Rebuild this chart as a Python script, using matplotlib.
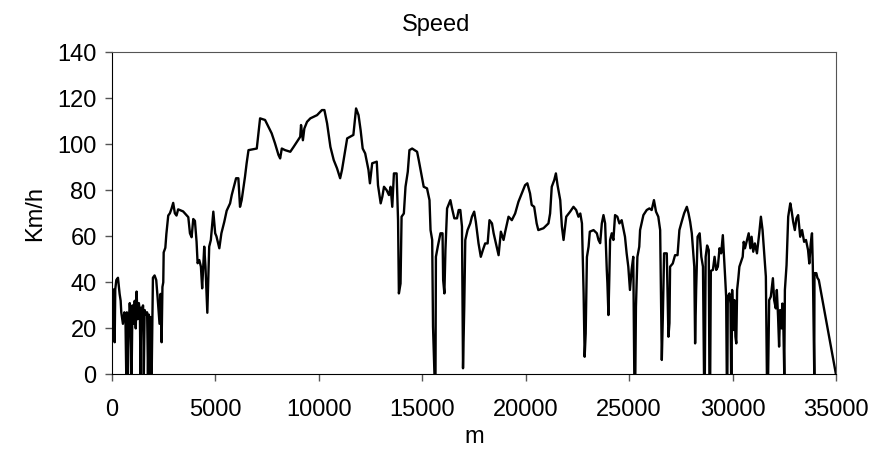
import matplotlib
matplotlib.use("Agg")
import matplotlib.pyplot as plt

plt.rcParams['font.family'] = ['Liberation Sans', 'DejaVu Sans']

# distance [m] and speed [km/h]
dist = [0, 50, 100, 130, 160, 210, 290, 370, 420, 450, 530, 600, 650, 690, 720, 770,
        820, 860, 900, 950, 990, 1050, 1100, 1150, 1190, 1240, 1300, 1350, 1380, 1410,
        1460, 1500, 1540, 1580, 1640, 1700, 1740, 1780, 1820, 1860, 1920, 1980, 2060,
        2140, 2210, 2300, 2350, 2400, 2440, 2480,
        2500, 2580, 2630, 2720, 2800, 2880, 2960, 3040, 3120, 3200, 3440, 3600, 3690,
        3770, 3850, 3930, 4010, 4090, 4140, 4220, 4300, 4360, 4460, 4520, 4610, 4700,
        4780, 4900, 4990, 5050, 5190, 5290, 5430, 5545, 5710, 5790, 6000, 6110, 6190,
        6270, 6430, 6510, 6600, 7000, 7160, 7400, 7560, 7720, 7880, 8050, 8130, 8210,
        8370, 8620, 8780, 8940, 9100, 9140, 9230, 9300, 9430, 9590, 9915, 10150, 10270,
        10400, 10560, 10720, 10880, 11030, 11120, 11240, 11370, 11510, 11670, 11800,
        11920, 12020, 12120, 12240, 12400, 12470, 12580, 12800, 12860, 12990, 13070,
        13150, 13280, 13390, 13470, 13550, 13630, 13760, 13830, 13870, 13950, 14000,
        14110, 14190, 14300, 14380, 14510, 14750, 14830, 14950, 15070, 15230, 15350,
        15400, 15480, 15520, 15590, 15640, 15660, 15750, 15880, 15980, 16010, 16070,
        16120, 16200, 16360, 16440, 16550, 16680, 16760, 16840, 16920, 16970, 17030,
        17080, 17190, 17320, 17400, 17510, 17590, 17720, 17830, 17930, 18040, 18160,
        18250, 18370, 18450, 18560, 18690, 18800, 18930, 19010, 19170, 19330, 19490,
        19650, 19810, 19970, 20080, 20210, 20290, 20410, 20530, 20610, 20860, 21100,
        21180, 21260, 21380, 21460, 21540, 21670, 21750, 21830, 21960, 22150, 22310,
        22440, 22550, 22640, 22720, 22800, 22850, 22900, 22960, 23040,
        23100, 23280, 23440, 23520, 23600, 23680, 23760, 23840, 23920, 23950, 24000,
        24040, 24080, 24160, 24240, 24320, 24430, 24530, 24640, 24720, 24800, 24880,
        24960, 25040, 25120, 25200, 25250, 25300, 25330, 25400, 25490, 25530, 25690,
        25850, 25980, 26090, 26200, 26300, 26410, 26500, 26550, 26580, 26630, 26690,
        26820, 26900, 26950, 26980, 27110, 27220, 27340, 27430, 27540, 27660, 27790,
        27870, 27950, 28030, 28150, 28190, 28240, 28310, 28410, 28490, 28570, 28620,
        28660, 28700, 28770, 28850, 28880, 28920, 28950,
        29050, 29130, 29210, 29290, 29370, 29450, 29530, 29580, 29640, 29690, 29720,
        29750, 29770, 29850, 29900, 29930, 29950, 29980, 30040, 30090, 30140, 30180,
        30220, 30280, 30330, 30410, 30490, 30540, 30600, 30700, 30780, 30860, 30920,
        31000, 31080, 31180, 31290, 31370, 31450, 31530, 31610, 31660, 31720, 31770,
        31850, 31950, 32010, 32090, 32140, 32200, 32250, 32300, 32370, 32410, 32460,
        32500, 32530, 32610, 32690, 32790, 32850, 32930, 33010, 33090, 33170, 33270,
        33360, 33460, 33550, 33650, 33710, 33780, 33840, 33880, 33950, 33960, 34050,
        34100, 34170, 35000]

speed = [36, 31, 37, 14, 37, 41, 42, 35, 32, 27, 22, 27, 26, 0, 27, 0,
         24, 31, 26, 0, 30, 22, 32, 20, 36, 24, 31, 27, 0, 29,
         21, 30, 0, 28, 26, 27, 0, 26, 0, 25, 0, 42, 43,
         41, 33, 22, 35, 14, 38, 40,
         53, 55, 61, 69, 70, 72, 74.5, 70, 69, 71.7, 70.8, 69.2, 68.3,
         61.3, 59.6, 67.5, 66.7, 57.6, 48.3, 49.7, 46.8, 37.4, 55.5, 46.8, 26.8, 55.5,
         58.4, 70.7, 61.3, 60, 54.8, 61.3, 66.3, 71.1, 74.3, 77.9, 85.2, 85.2, 72.8,
         75.7, 85.8, 91.7, 97.4, 98.1, 111.2, 110.5, 107.6, 104.7, 100.4, 95.3, 93.8, 98.1,
         97.4, 96.7, 98.8, 101, 103.2, 108.3, 101.7, 106.8, 109.7, 111.2, 112.6, 114.8, 114.8,
         109, 98.8, 93.1, 89.5, 85.2, 88.8, 95.3, 102.5, 103.2, 104, 115.5,
         112.6, 106.1, 98.1, 96, 88.8, 83, 91.7, 92.4, 82.2, 74.3, 77.2,
         81.5, 80, 77.9, 81.5, 72.8, 87.3, 87.3, 67, 35.2, 39.5, 68.5,
         69.9, 81.5, 88, 97.4, 98.1, 96.7, 93.1, 87.3, 81.5, 80.8, 75.7,
         62.7, 58.4, 20.8, 0, 0, 51.1, 55.5, 61.3, 61.3, 41, 35.2,
         54, 72.1, 75.7, 72.1, 67.8, 67.8, 71.4, 71.4, 64.2, 2.7, 29.4,
         58.4, 62.7, 65.6, 68.5, 70.7, 66.3, 56.9, 51.1, 54, 56.9, 56.9,
         67, 65.6, 61.3, 56.9, 51.8, 62, 58.4, 62, 68.5, 67, 69.9,
         75, 78.6, 82.2, 83, 78.6, 73.6, 72.8, 65.6, 62.7, 63.5, 65.6,
         69.9, 81.5, 84.4, 87.3, 82.2, 75.7, 64.2, 58.4, 68.5, 70.7, 72.8,
         71.4, 68.5, 69.9, 65.6, 35.2, 7.7, 17.8, 51, 55.5,
         62, 62.7, 61.3, 58.4, 57, 65.6, 69.2, 65.6, 45.4, 39.6, 25.8,
         41, 58.4, 61.3, 58.4, 69.2, 68.5, 65.6, 67, 63.5, 59.8, 52.6,
         46.8, 36.7, 45.4, 51.1, 0, 0, 29.4, 51.1, 55.5, 62.7, 69.2,
         71.4, 72.1, 71.4, 75.7, 70.7, 68.5, 62.7, 26.5, 6.3, 25, 52.6,
         52.6, 16.4, 22.3, 46.8, 48.2, 51.8, 51.8, 62.7, 66.3, 70, 72.8,
         70, 66.3, 61.3, 46.8, 13.5, 36.7, 59.8, 61.3, 51.1, 46.8, 0,
         0, 51.1, 56, 54, 0, 0, 45,
         45.4, 51.1, 45.4, 46.8, 54.8, 52.6, 60.5, 52.6, 42.5, 33.8, 0,
         0, 33.8, 35.2, 30.8, 0, 0, 36.7, 19.3, 32.3, 16.4, 13.5,
         36.7, 41.8, 46.8, 49, 51.1, 57.6, 54.8, 58.4, 61.3, 54.8, 59.8,
         53.3, 56.9, 52.6, 61.3, 68.5, 62.7, 52.6, 42.5, 0, 0, 32.3,
         33.8, 41.8, 32.3, 28.7, 36.7, 25.1, 12.1, 28, 20, 30.8, 19.3,
         0, 36.7, 47.5, 68.5, 74.3, 71.4, 66.3, 62.7, 67.8, 69.2, 59.8,
         62.7, 57.6, 58.4, 54, 48.2, 56.9, 61.3, 47, 0, 44, 44,
         42, 41, 0]

fig = plt.figure(figsize=(8.72, 4.5), dpi=100)
ax = fig.add_axes([0.1284, 0.1678, 0.8303, 0.7166])

ax.plot(dist, speed, color="black", linewidth=1.7)

ax.set_xlim(0, 35000)
ax.set_ylim(0, 140)
ax.set_xticks(range(0, 35001, 5000))
ax.set_yticks(range(0, 141, 20))
ax.tick_params(direction="out", length=5, width=1, color="#555555",
               labelsize=17)
ax.tick_params(axis="x", pad=13)
ax.tick_params(axis="y", pad=6)

for side in ["top", "right"]:
    ax.spines[side].set_color("#555555")
for side in ["left", "bottom"]:
    ax.spines[side].set_color("black")

# title sits centred on the whole figure, not on the axes
fig.text(0.5, 0.944, "Speed", fontsize=17, ha="center", va="center")
ax.set_xlabel("m", fontsize=17, labelpad=3)
ax.set_ylabel("Km/h", fontsize=17, labelpad=8)

fig.savefig("out.png", dpi=100)
